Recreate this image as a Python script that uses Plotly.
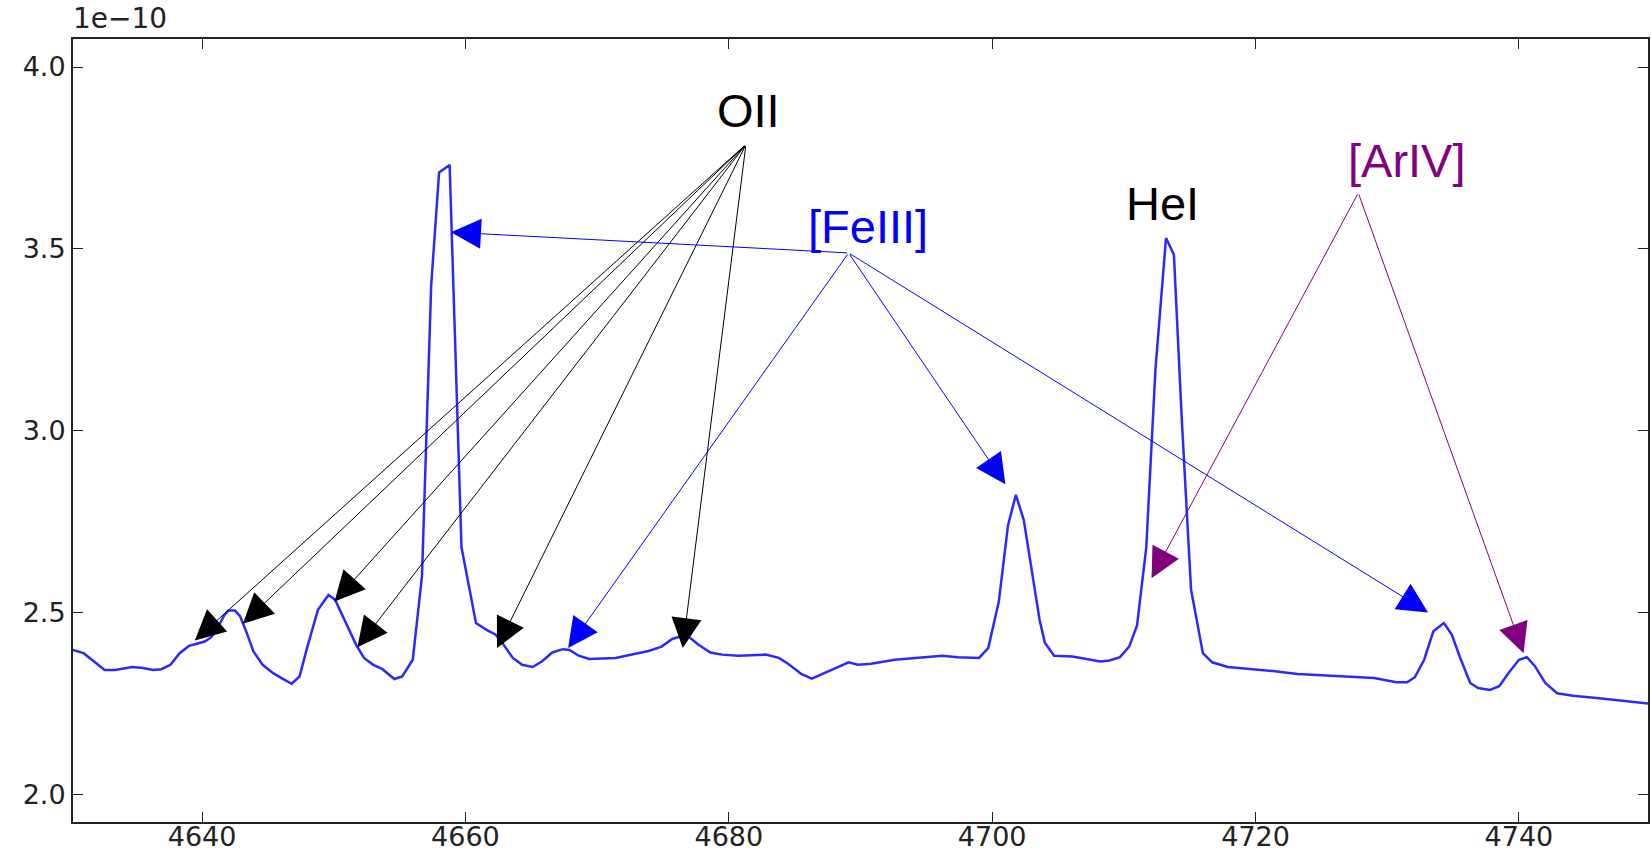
import plotly.graph_objects as go

# Wavelength (Angstrom) and flux (units of 1e-10)
wavelength = [
    4630.0, 4631.0, 4631.8, 4632.6, 4633.4, 4634.7, 4635.5, 4636.3, 4636.9, 4637.6,
    4638.3, 4639.0, 4639.6, 4640.2, 4640.7, 4641.1, 4641.7, 4642.0, 4642.5, 4642.9,
    4643.4, 4643.9, 4644.6, 4645.4, 4646.1, 4646.8, 4647.4, 4648.0, 4648.8, 4649.6,
    4650.1, 4650.9, 4651.7, 4652.3, 4653.0, 4653.7, 4654.1, 4654.6, 4655.2, 4656.0,
    4656.7, 4657.4, 4658.0, 4658.8, 4659.7, 4660.8, 4661.6, 4662.3, 4662.8, 4663.6,
    4664.3, 4665.1, 4665.8, 4666.6, 4667.4, 4667.9, 4668.6, 4669.4, 4671.4, 4672.7,
    4673.9, 4674.9, 4675.7, 4676.3, 4677.0, 4677.7, 4678.6, 4679.5, 4680.7, 4682.8,
    4683.8, 4684.5, 4685.5, 4686.3, 4687.0, 4688.3, 4689.1, 4689.8, 4690.8, 4692.6,
    4694.6, 4696.2, 4697.4, 4698.3, 4699.0, 4699.7, 4700.5, 4701.2, 4701.8, 4702.4,
    4703.2, 4703.6, 4704.0, 4704.7, 4706.1, 4707.3, 4708.2, 4708.9, 4709.7, 4710.4,
    4711.0, 4711.7, 4712.4, 4713.2, 4713.8, 4714.4, 4715.1, 4716.0, 4716.7, 4717.9,
    4719.5, 4721.3, 4723.2, 4725.7, 4729.0, 4730.0, 4730.7, 4731.5, 4732.1, 4732.8,
    4733.5, 4734.3, 4734.9, 4735.5, 4736.3, 4736.9, 4737.8, 4738.5, 4739.2, 4740.0,
    4740.6, 4741.2, 4742.0, 4742.9, 4744.1, 4745.9, 4748.4, 4750.0,
]
flux = [
    2.400, 2.389, 2.366, 2.343, 2.343, 2.351, 2.348, 2.343, 2.345, 2.357,
    2.389, 2.409, 2.415, 2.421, 2.433, 2.453, 2.494, 2.506, 2.506, 2.490,
    2.444, 2.394, 2.357, 2.334, 2.319, 2.305, 2.325, 2.407, 2.508, 2.549,
    2.536, 2.472, 2.412, 2.376, 2.357, 2.345, 2.334, 2.318, 2.325, 2.371,
    2.600, 3.400, 3.710, 3.731, 2.680, 2.472, 2.453, 2.440, 2.417, 2.376,
    2.357, 2.351, 2.366, 2.391, 2.400, 2.398, 2.382, 2.373, 2.376, 2.385,
    2.395, 2.407, 2.428, 2.435, 2.433, 2.412, 2.391, 2.385, 2.382, 2.385,
    2.376, 2.360, 2.332, 2.319, 2.330, 2.352, 2.364, 2.357, 2.360, 2.371,
    2.378, 2.382, 2.378, 2.376, 2.376, 2.403, 2.530, 2.740, 2.824, 2.755,
    2.564, 2.480, 2.418, 2.382, 2.380, 2.371, 2.366, 2.369, 2.378, 2.407,
    2.465, 2.680, 3.170, 3.530, 3.484, 3.030, 2.564, 2.389, 2.364, 2.351,
    2.346, 2.340, 2.332, 2.327, 2.321, 2.314, 2.309, 2.309, 2.323, 2.371,
    2.449, 2.472, 2.440, 2.380, 2.307, 2.293, 2.288, 2.298, 2.334, 2.371,
    2.378, 2.354, 2.307, 2.279, 2.272, 2.266, 2.256, 2.250,
]

x_ticks = [4640, 4660, 4680, 4700, 4720, 4740]
y_ticks = [2.0, 2.5, 3.0, 3.5, 4.0]
y_ticklabels = ["2.0", "2.5", "3.0", "3.5", "4.0"]

# Line labels: name, label position, arrow base, colour, arrow tips
label_names = ["OII", "[FeIII]", "HeI", "[ArIV]"]
label_x = [4681.5, 4690.6, 4712.9, 4731.5]
label_y = [3.880, 3.562, 3.625, 3.744]
label_colors = ["black", "#0000ff", "black", "#800080"]
base_x = [4681.3, 4689.1, None, 4727.8]
base_y = [3.787, 3.489, None, 3.654]
tips_x = [
    [4639.45, 4643.1, 4650.06, 4651.8, 4662.4, 4676.5],
    [4658.9, 4667.8, 4701.0, 4733.1],
    [],
    [4712.1, 4740.35],
]
tips_y = [
    [2.424, 2.470, 2.531, 2.405, 2.403, 2.403],
    [3.546, 2.403, 2.853, 2.501],
    [],
    [2.595, 2.389],
]

fig = go.Figure()
fig.add_trace(go.Scatter(
    x=wavelength, y=flux, mode="lines",
    line=dict(color="#2a2aff", width=2.5),
    showlegend=False, hoverinfo="skip",
))

annotations = []
for i, name in enumerate(label_names):
    annotations.append(dict(
        x=label_x[i], y=label_y[i], xref="x", yref="y",
        text=name, showarrow=False,
        font=dict(family="Liberation Sans, Arial, sans-serif", size=47, color=label_colors[i]),
        xanchor="center", yanchor="middle",
    ))
    if base_x[i] is None:
        continue
    for tx, ty in zip(tips_x[i], tips_y[i]):
        annotations.append(dict(
            x=tx, y=ty, xref="x", yref="y",
            ax=base_x[i], ay=base_y[i], axref="x", ayref="y",
            text="", showarrow=True,
            arrowhead=2, arrowsize=6, arrowwidth=1,
            arrowcolor=label_colors[i], standoff=0,
        ))

annotations.append(dict(
    x=0, y=1, xref="paper", yref="paper",
    text="1e\u221210", showarrow=False,
    xanchor="left", yanchor="bottom", yshift=2, xshift=-2,
    font=dict(family="DejaVu Sans", size=28, color="#222"),
))

axis_common = dict(
    showgrid=False, zeroline=False, automargin=False,
    showline=True, linecolor="#222", linewidth=2, mirror="ticks",
    ticks="inside", ticklen=10, tickwidth=1, tickcolor="#222",
    tickfont=dict(family="DejaVu Sans", size=27, color="#222"),
)

fig.update_layout(
    width=1651, height=853,
    margin=dict(l=73, r=3, t=39, b=31),
    paper_bgcolor="white", plot_bgcolor="white",
    annotations=annotations,
    xaxis=dict(range=[4630.2, 4749.8], tickvals=x_ticks, ticklabelstandoff=-10, **axis_common),
    yaxis=dict(range=[1.925, 4.077], tickvals=y_ticks, ticktext=y_ticklabels, **axis_common),
)

fig.write_html("out.html")
